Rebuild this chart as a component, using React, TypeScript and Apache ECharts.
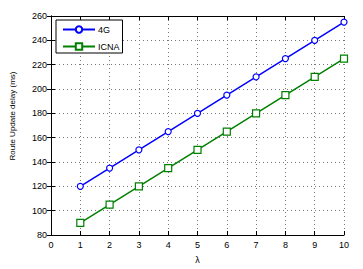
import React, { useEffect, useRef } from "react";
import * as echarts from "echarts";

const lambdas = [1, 2, 3, 4, 5, 6, 7, 8, 9, 10];
const series4G = [120, 135, 150, 165, 180, 195, 210, 225, 240, 255];
const seriesICNA = [90, 105, 120, 135, 150, 165, 180, 195, 210, 225];
const seriesNames = ["4G", "ICNA"];
const yTitle = "Route Update delay (ms)";

export default function App() {
  const ref = useRef<HTMLDivElement>(null);
  useEffect(() => {
    const chart = echarts.init(ref.current!, null, { renderer: "svg" });
    const font = "Liberation Sans, Arial, sans-serif";
    const axisCommon = {
      axisLine: { show: true, onZero: false, lineStyle: { color: "#000", width: 1 } },
      axisTick: { show: true, inside: true, length: 4, lineStyle: { color: "#000" } },
      axisLabel: { color: "#000", fontSize: 9, fontFamily: font },
      splitLine: { show: true, lineStyle: { color: "#777", type: [1, 3], width: 1 } },
    };
    chart.setOption({
      animation: false,
      backgroundColor: "#fff",
      grid: { left: 51, right: 19, top: 16, bottom: 33, containLabel: false },
      legend: {
        show: true,
        left: 56,
        top: 20,
        orient: "vertical",
        itemGap: 8,
        itemWidth: 32,
        itemHeight: 8,
        padding: [5, 3, 2, 6],
        borderColor: "#000",
        borderWidth: 1,
        backgroundColor: "#fff",
        textStyle: { color: "#000", fontSize: 9, fontFamily: font, padding: [0, 0, 0, -2] },
        data: seriesNames,
      },
      graphic: [
        {
          type: "text",
          x: 12,
          y: 116,
          rotation: Math.PI / 2,
          style: {
            text: yTitle,
            fill: "#000",
            fontSize: 8,
            fontFamily: font,
            align: "center",
            verticalAlign: "middle",
          },
        },
      ],
      xAxis: [
        {
          type: "value",
          min: 0,
          max: 10,
          interval: 1,
          name: "λ",
          nameLocation: "middle",
          nameGap: 20,
          nameTextStyle: { color: "#000", fontSize: 9, fontFamily: font },
          ...axisCommon,
          axisLabel: { ...axisCommon.axisLabel, margin: 5 },
        },
        {
          type: "value",
          position: "top",
          min: 0,
          max: 10,
          interval: 1,
          axisLine: { show: true, lineStyle: { color: "#000" } },
          axisTick: { show: true, inside: true, length: 4, lineStyle: { color: "#000" } },
          axisLabel: { show: false },
          splitLine: { show: false },
        },
      ],
      yAxis: [
        {
          type: "value",
          min: 80,
          max: 260,
          interval: 20,
          ...axisCommon,
          axisLabel: { ...axisCommon.axisLabel, margin: 4 },
        },
        {
          type: "value",
          position: "right",
          min: 80,
          max: 260,
          interval: 20,
          axisLine: { show: true, lineStyle: { color: "#000" } },
          axisTick: { show: true, inside: true, length: 4, lineStyle: { color: "#000" } },
          axisLabel: { show: false },
          splitLine: { show: false },
        },
      ],
      series: [
        {
          name: seriesNames[0],
          type: "line",
          data: lambdas.map((x, i) => [x, series4G[i]]),
          color: "#0000ff",
          lineStyle: { color: "#0000ff", width: 1.5 },
          symbol: "circle",
          symbolSize: 6,
          itemStyle: { color: "#fff", borderColor: "#0000ff", borderWidth: 1.2 },
        },
        {
          name: seriesNames[1],
          type: "line",
          data: lambdas.map((x, i) => [x, seriesICNA[i]]),
          color: "#008000",
          lineStyle: { color: "#008000", width: 1.5 },
          symbol: "rect",
          symbolSize: 7,
          itemStyle: { color: "#fff", borderColor: "#008000", borderWidth: 1.2 },
        },
      ],
    });
    return () => chart.dispose();
  }, []);
  return <div ref={ref} style={{ width: 363, height: 269, position: "absolute", left: 0, top: 0 }} />;
}
